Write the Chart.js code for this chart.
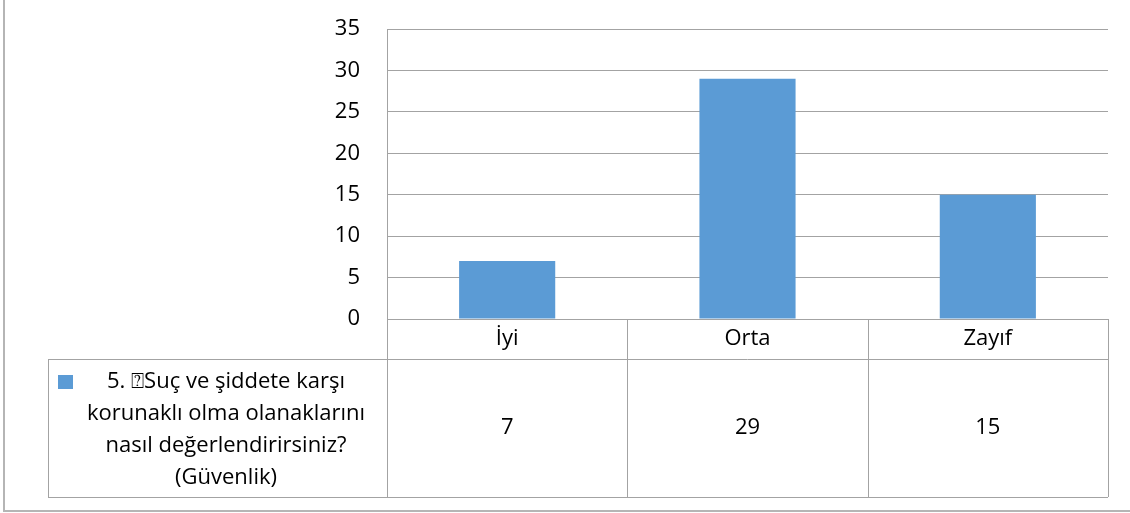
<!DOCTYPE html>
<html>
<head>
<meta charset="utf-8">
<script src="https://cdn.jsdelivr.net/npm/chart.js@4"></script>
<style>
  body { margin: 0; background: #fff; }
</style>
</head>
<body>
<canvas id="myChart" width="1130" height="513"></canvas>
<script>
var categories = ['İyi', 'Orta', 'Zayıf'];
var values = [7, 29, 15];
var seriesLines = ['5. ⍰Suç ve şiddete karşı', 'korunaklı olma olanaklarını', 'nasıl değerlendirirsiniz?', '(Güvenlik)'];
var yMin = 0, yMax = 35, yStep = 5;

var FONT = "'Open Sans', sans-serif";
var FSIZE = 22;
var LINE = '#a3a3a3';
var BLUE = '#5b9bd5';

// data table under the plot, Excel style
var dataTable = {
    id: 'dataTable',
    afterDraw: function(chart){
        var ctx = chart.ctx;
        var a = chart.chartArea;
        var xs = chart.scales.x;
        var top = Math.round(a.bottom), mid = top + 40, bot = 497;
        var legLeft = 48;
        var colW = (a.right - a.left) / categories.length;

        ctx.save();
        ctx.strokeStyle = LINE;
        ctx.lineWidth = 1;
        ctx.beginPath();
        ctx.moveTo(a.left, mid + .5); ctx.lineTo(a.right, mid + .5);
        ctx.moveTo(legLeft, mid + .5); ctx.lineTo(a.left, mid + .5);
        ctx.moveTo(legLeft, bot + .5); ctx.lineTo(a.right, bot + .5);
        ctx.moveTo(legLeft + .5, mid); ctx.lineTo(legLeft + .5, bot);
        ctx.moveTo(Math.round(a.left) + .5, top); ctx.lineTo(Math.round(a.left) + .5, bot);
        for (var i = 1; i <= categories.length; i++) {
            var cx = Math.round(a.left + colW * i) + .5;
            ctx.moveTo(cx, top); ctx.lineTo(cx, bot);
        }
        ctx.stroke();

        ctx.fillStyle = '#000';
        ctx.font = FSIZE + 'px ' + FONT;
        ctx.textAlign = 'center';
        ctx.textBaseline = 'middle';
        categories.forEach(function(c, i){
            var px = xs.getPixelForValue(i);
            ctx.fillText(c, px, top + 20);
            ctx.fillText(String(values[i]), px, (mid + bot) / 2);
        });

        // legend cell
        ctx.fillStyle = BLUE;
        ctx.fillRect(58, 375, 15, 14);
        ctx.fillStyle = '#000';
        seriesLines.forEach(function(t, i){
            ctx.fillText(t, 226, 382 + i * 32);
        });

        // outer chart border
        ctx.fillStyle = '#b5b5b5';
        ctx.fillRect(3, 0, 2, 512);
        ctx.fillRect(3, 510, 1127, 2);
        ctx.restore();
    }
};

var myChart = document.getElementById('myChart').getContext('2d');
var chart = new Chart(myChart, {
    type: 'bar',
    data: {
        labels: categories,
        datasets: [{
            label: seriesLines.join(' '),
            data: values,
            backgroundColor: BLUE,
            barPercentage: 0.4,
            categoryPercentage: 1
        }]
    },
    options: {
        responsive: false,
        animation: false,
        layout: { padding: { top: 29, right: 22, bottom: 194, left: 0 } },
        plugins: { legend: { display: false }, tooltip: { enabled: false } },
        scales: {
            x: { display: false },
            y: {
                min: yMin, max: yMax,
                afterFit: function(s){ s.width = 387; s.paddingTop = 0; s.paddingBottom = 0; },
                ticks: { stepSize: yStep, padding: 27, color: '#000', font: { family: FONT, size: FSIZE } },
                grid: { color: LINE, drawTicks: false },
                border: { color: LINE }
            }
        }
    },
    plugins: [dataTable]
});
</script>
</body>
</html>
